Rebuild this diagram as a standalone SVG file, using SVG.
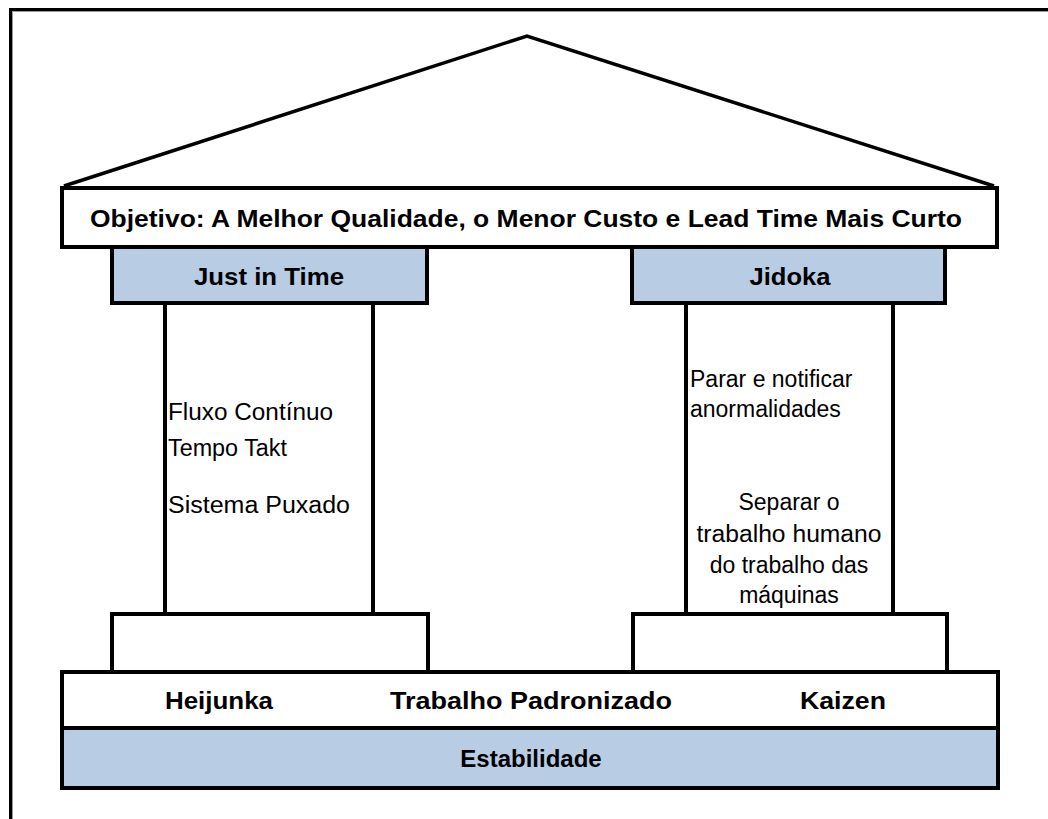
<svg xmlns="http://www.w3.org/2000/svg" width="1048" height="819" viewBox="0 0 1048 819">
<style>
.box{fill:#fff;stroke:#000;stroke-width:4}
.blue{fill:#B8CCE4;stroke:#000;stroke-width:4}
.ln{stroke:#000;stroke-width:4;fill:none}
.b{font-family:"Liberation Sans",Arial,sans-serif;font-weight:bold;font-size:24px;fill:#000;text-anchor:middle}
.r{font-family:"Liberation Sans",Arial,sans-serif;font-size:23px;fill:#000}
.rc{font-family:"Liberation Sans",Arial,sans-serif;font-size:23px;fill:#000;text-anchor:middle}
</style>
<rect width="1048" height="819" fill="#fff"/>
<g id="frame">
<path d="M10.5,830 V9.5 H1060" fill="none" stroke="#000" stroke-width="3"/>
<path d="M12.5,830 V11.5 H1060" fill="none" stroke="#999" stroke-width="1"/>
</g>
<g id="roof">
<path d="M64,186 L527,36 L994,186" fill="none" stroke="#000" stroke-width="3.5" stroke-linejoin="miter"/>
</g>
<g id="connectors">
<line class="ln" x1="165" y1="303" x2="165" y2="614"/>
<line class="ln" x1="373" y1="303" x2="373" y2="614"/>
<line class="ln" x1="686" y1="303" x2="686" y2="614"/>
<line class="ln" x1="893" y1="303" x2="893" y2="614"/>
</g>
<g id="objetivo">
<rect class="box" x="62" y="188" width="935" height="59"/>
<text class="b" x="526" y="227" textLength="872" lengthAdjust="spacingAndGlyphs">Objetivo: A Melhor Qualidade, o Menor Custo e Lead Time Mais Curto</text>
</g>
<g id="jit">
<rect class="blue" x="112" y="247" width="315" height="56"/>
<text class="b" x="269" y="285" textLength="150" lengthAdjust="spacingAndGlyphs">Just in Time</text>
</g>
<g id="jidoka">
<rect class="blue" x="632" y="247" width="313" height="56"/>
<text class="b" x="790" y="285" textLength="81" lengthAdjust="spacingAndGlyphs">Jidoka</text>
</g>
<g id="jit-items">
<text class="r" x="168" y="420" textLength="165" lengthAdjust="spacingAndGlyphs">Fluxo Contínuo</text>
<text class="r" x="168" y="456" textLength="119" lengthAdjust="spacingAndGlyphs">Tempo Takt</text>
<text class="r" x="168" y="513" textLength="182" lengthAdjust="spacingAndGlyphs">Sistema Puxado</text>
</g>
<g id="jidoka-items">
<text class="r" x="690" y="387">Parar e notificar</text>
<text class="r" x="690" y="417">anormalidades</text>
<text class="rc" x="789" y="510">Separar o</text>
<text class="rc" x="789" y="542" textLength="185" lengthAdjust="spacingAndGlyphs">trabalho humano</text>
<text class="rc" x="789" y="573">do trabalho das</text>
<text class="rc" x="789" y="603">máquinas</text>
</g>
<g id="base-left">
<rect class="box" x="112" y="614" width="316" height="58"/>
</g>
<g id="base-right">
<rect class="box" x="633" y="614" width="314" height="58"/>
</g>
<g id="praticas">
<rect class="box" x="62" y="672" width="936" height="56"/>
<text class="b" x="219" y="709" textLength="108" lengthAdjust="spacingAndGlyphs">Heijunka</text>
<text class="b" x="531" y="709" textLength="282" lengthAdjust="spacingAndGlyphs">Trabalho Padronizado</text>
<text class="b" x="843" y="709" textLength="86" lengthAdjust="spacingAndGlyphs">Kaizen</text>
</g>
<g id="estabilidade">
<rect class="blue" x="62" y="728" width="936" height="60"/>
<text class="b" x="531" y="767">Estabilidade</text>
</g>
</svg>
